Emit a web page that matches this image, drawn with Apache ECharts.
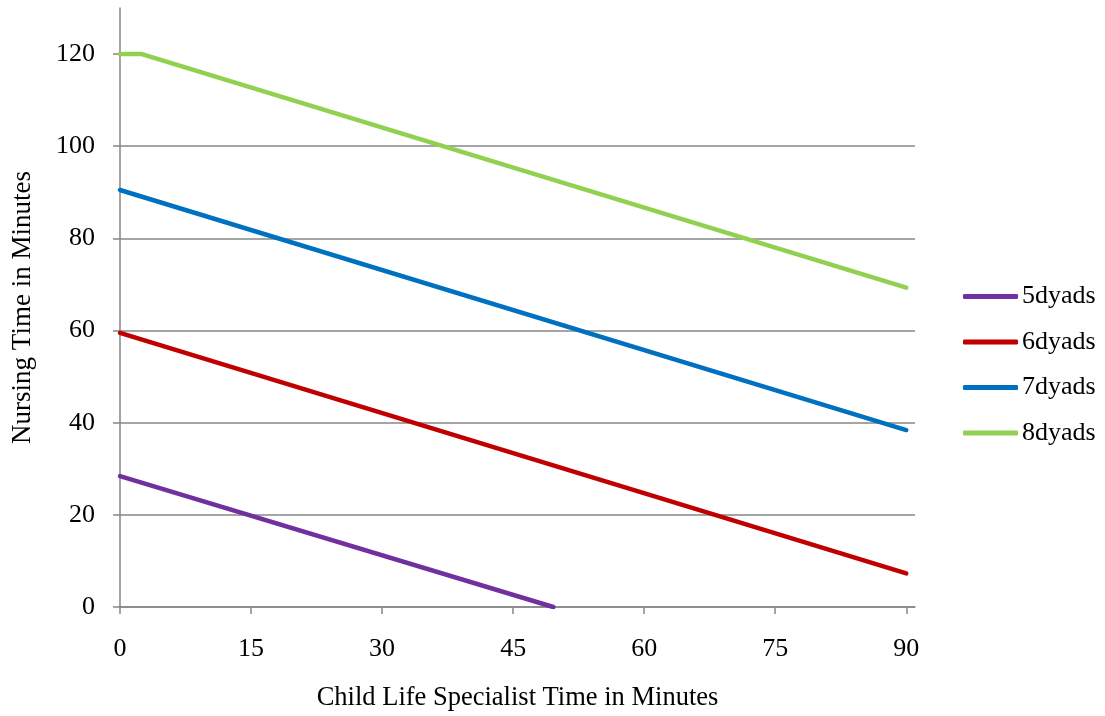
<!DOCTYPE html>
<html>
<head>
<meta charset="utf-8">
<script src="https://cdn.jsdelivr.net/npm/echarts@6/dist/echarts.min.js"></script>
<style>html,body{margin:0;padding:0;background:#fff}#c{width:1105px;height:716px}</style>
</head>
<body>
<div id="c"></div>
<script>
const seriesNames = ['5dyads', '6dyads', '7dyads', '8dyads'];
const dyads5 = [[0, 28.4], [49.6, 0]];
const dyads6 = [[0, 59.5], [90, 7.3]];
const dyads7 = [[0, 90.5], [90, 38.4]];
const dyads8 = [[0, 120], [2.5, 120], [90, 69.3]];
const xTicks = [0, 15, 30, 45, 60, 75, 90];
const yTicks = [0, 20, 40, 60, 80, 100, 120];
const colors = ['#7030A0', '#C00000', '#0070C0', '#92D050'];

const font = 'Liberation Serif';
const fs = 26;
const gray = '#878787';
const chart = echarts.init(document.getElementById('c'));
const data = [dyads5, dyads6, dyads7, dyads8];
chart.setOption({
  animation: false,
  textStyle: { fontFamily: font, color: '#000' },
  grid: { left: 120, right: 190, top: 8, bottom: 109, outerBoundsMode: 'none', containLabel: false },
  legend: {
    orient: 'vertical', left: 963, top: 283, padding: 0,
    itemWidth: 55, itemHeight: 5, itemGap: 18.5,
    icon: 'roundRect',
    textStyle: { fontFamily: font, fontSize: fs, color: '#000', lineHeight: 27, padding: [0, 0, 0, -1] },
    data: seriesNames
  },
  xAxis: {
    type: 'value', min: 0, max: 91, interval: 15,
    name: 'Child Life Specialist Time in Minutes', nameLocation: 'middle', nameGap: 78,
    nameTextStyle: { fontFamily: font, fontSize: 26.5, color: '#000' },
    axisLine: { lineStyle: { color: gray, width: 1.5 } },
    axisTick: { show: true, length: 7, lineStyle: { color: gray, width: 1.5 }, customValues: xTicks },
    axisLabel: { fontFamily: font, fontSize: fs, color: '#000', margin: 29, customValues: xTicks },
    splitLine: { show: false }
  },
  yAxis: {
    type: 'value', min: 0, max: 130, interval: 20,
    name: 'Nursing Time in Minutes', nameLocation: 'middle', nameGap: 84,
    nameTextStyle: { fontFamily: font, fontSize: 27, color: '#000' },
    axisLine: { show: true, lineStyle: { color: gray, width: 1.5 } },
    axisTick: { show: true, length: 7, lineStyle: { color: gray, width: 1.5 }, customValues: yTicks },
    axisLabel: { fontFamily: font, fontSize: fs, color: '#000', margin: 25, customValues: yTicks },
    splitLine: { show: true, showMaxLine: false, lineStyle: { color: gray, width: 1.5 } }
  },
  series: seriesNames.map((n, i) => ({
    name: n, type: 'line', data: data[i], showSymbol: false, symbol: 'none',
    color: colors[i],
    lineStyle: { width: 4.5, color: colors[i], cap: 'round', join: 'round' }
  }))
});
</script>
</body>
</html>
